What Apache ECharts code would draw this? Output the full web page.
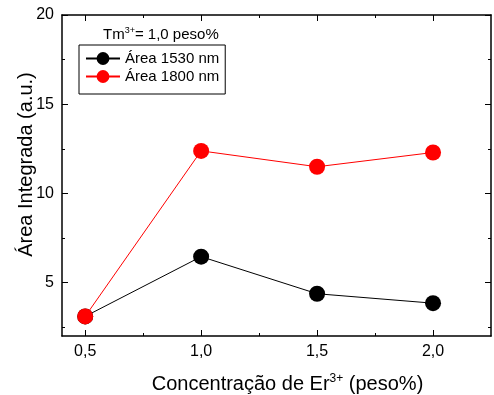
<!DOCTYPE html>
<html>
<head>
<meta charset="utf-8">
<script src="https://cdn.jsdelivr.net/npm/echarts@6/dist/echarts.min.js"></script>
<style>
  html, body { margin: 0; padding: 0; background: #fff; }
  #chart { width: 494px; height: 395px; }
</style>
</head>
<body>
<div id="chart"></div>
<script>
// Er3+ concentration (weight %) and integrated emission areas
const concentrations = [0.5, 1.0, 1.5, 2.0];
const area1530 = [3.1, 6.45, 4.37, 3.84];
const area1800 = [3.1, 12.38, 11.49, 12.29];

const xMajorTicks = [0.5, 1.0, 1.5, 2.0];
const xMinorTicks = [0.75, 1.25, 1.75];
const yMajorTicks = [5, 10, 15, 20];
const yMinorTicks = [2.5, 7.5, 12.5, 17.5];

const FONT = 'Arial, "Liberation Sans", sans-serif';

const pairs = (xs, ys) => xs.map((x, i) => [x, ys[i]]);

function xAxisDef(position, ticks, len, showLine, showLabels) {
  return {
    type: 'value', position, min: 0.4, max: 2.25,
    splitLine: { show: false },
    axisLine: { show: showLine, lineStyle: { color: '#000', width: 1.5 } },
    axisTick: { show: true, inside: true, length: len, customValues: ticks,
                lineStyle: { color: '#000', width: 1 } },
    axisLabel: showLabels ? {
      show: true, customValues: ticks, margin: 8,
      color: '#000', fontSize: 16, fontFamily: FONT,
      formatter: v => v.toFixed(1).replace('.', ',')
    } : { show: false }
  };
}

function yAxisDef(position, ticks, len, showLine, showLabels) {
  return {
    type: 'value', position, min: 2, max: 20,
    splitLine: { show: false },
    axisLine: { show: showLine, lineStyle: { color: '#000', width: 1.5 } },
    axisTick: { show: true, inside: true, length: len, customValues: ticks,
                lineStyle: { color: '#000', width: 1 } },
    axisLabel: showLabels ? {
      show: true, customValues: ticks, margin: 8,
      color: '#000', fontSize: 16, fontFamily: FONT,
      formatter: v => String(v)
    } : { show: false }
  };
}

const xAxes = [
  xAxisDef('bottom', xMajorTicks, 6, true, true),
  xAxisDef('bottom', xMinorTicks, 3, false, false),
  xAxisDef('top', xMajorTicks, 6, true, false),
  xAxisDef('top', xMinorTicks, 3, false, false)
];
Object.assign(xAxes[0], {
  name: 'Concentração de Er{sup|3+} (peso%)',
  nameLocation: 'middle',
  nameGap: 37,
  nameMoveOverlap: false,
  nameTextStyle: {
    color: '#000', fontSize: 20, fontFamily: FONT,
    padding: [0, 0, 0, 22],
    rich: { sup: { fontSize: 12, verticalAlign: 'top', padding: [0, 0, 10, 0], fontFamily: FONT, color: '#000' } }
  }
});

const yAxes = [
  yAxisDef('left', yMajorTicks, 6, true, true),
  yAxisDef('left', yMinorTicks, 3, false, false),
  yAxisDef('right', yMajorTicks, 6, true, false),
  yAxisDef('right', yMinorTicks, 3, false, false)
];
Object.assign(yAxes[0], {
  name: 'Área Integrada (a.u.)',
  nameLocation: 'middle',
  nameGap: 26,
  nameMoveOverlap: false,
  nameTextStyle: { color: '#000', fontSize: 20, fontFamily: FONT, padding: [0, 0, 0, 22] }
});

const chart = echarts.init(document.getElementById('chart'), null, { renderer: 'canvas' });
chart.setOption({
  animation: false,
  backgroundColor: '#fff',
  grid: { left: 62, right: 3, top: 15, bottom: 59, containLabel: false, outerBoundsMode: 'none' },
  title: {
    text: 'Tm{sup|3+}= 1,0 peso%',
    left: 103, top: 26, padding: 0,
    textStyle: {
      color: '#000', fontSize: 15, fontWeight: 'normal', fontFamily: FONT,
      rich: { sup: { fontSize: 9, verticalAlign: 'top', padding: [0, 0, 8, 0], fontFamily: FONT, color: '#000' } }
    }
  },
  legend: {
    orient: 'vertical',
    left: 79, top: 45,
    padding: [6, 6, 10, 6],
    itemWidth: 34, itemHeight: 16, itemGap: 3,
    borderColor: '#000', borderWidth: 1,
    textStyle: { color: '#000', fontSize: 15, fontFamily: FONT },
    data: ['Área 1530 nm', 'Área 1800 nm']
  },
  xAxis: xAxes,
  yAxis: yAxes,
  series: [
    {
      name: 'Área 1530 nm', type: 'line', xAxisIndex: 0, yAxisIndex: 0,
      data: pairs(concentrations, area1530),
      symbol: 'circle', symbolSize: 16,
      lineStyle: { color: '#000', width: 1 },
      itemStyle: { color: '#000' }
    },
    {
      name: 'Área 1800 nm', type: 'line', xAxisIndex: 0, yAxisIndex: 0,
      data: pairs(concentrations, area1800),
      symbol: 'circle', symbolSize: 16,
      lineStyle: { color: '#ff0000', width: 1 },
      itemStyle: { color: '#ff0000' }
    }
  ]
});
</script>
</body>
</html>
